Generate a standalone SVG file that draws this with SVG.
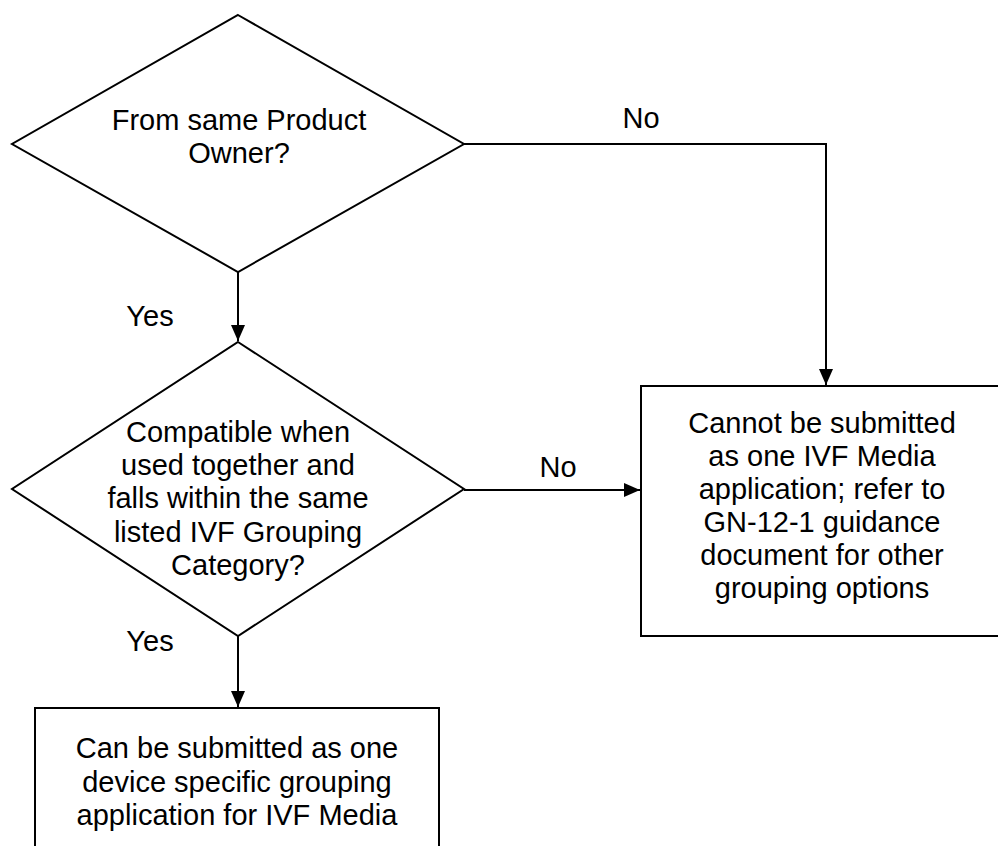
<svg xmlns="http://www.w3.org/2000/svg" width="998" height="846" viewBox="0 0 998 846">
<style>
.shape{fill:#fff;stroke:#000;stroke-width:2}
.conn{fill:none;stroke:#000;stroke-width:2}
text{font-family:"Liberation Sans",Arial,sans-serif;font-size:29px;fill:#000;text-anchor:middle}
</style>
<defs>
<marker id="arr" viewBox="0 0 16 14" refX="16" refY="7" markerWidth="16" markerHeight="14" markerUnits="userSpaceOnUse" orient="auto">
<path d="M0,0 L16,7 L0,14 Z" fill="#000"/>
</marker>
</defs>
<rect width="998" height="846" fill="#fff"/>
<g id="connectors">
<path class="conn" d="M238,272 L238,341" marker-end="url(#arr)"/>
<path class="conn" d="M464,144 L826,144 L826,385" marker-end="url(#arr)"/>
<path class="conn" d="M464,490 L640,490" marker-end="url(#arr)"/>
<path class="conn" d="M238,636 L238,707" marker-end="url(#arr)"/>
<text x="641" y="128">No</text>
<text x="150" y="326">Yes</text>
<text x="558" y="477">No</text>
<text x="150" y="651">Yes</text>
</g>
<g id="decision1">
<polygon class="shape" points="238,15 464,144 238,272 12,144"/>
<text x="239" y="130">From same Product</text>
<text x="239" y="163">Owner?</text>
</g>
<g id="decision2">
<polygon class="shape" points="238,342 464,489 238,636 12,489"/>
<text x="238" y="442">Compatible when</text>
<text x="238" y="475">used together and</text>
<text x="238" y="508">falls within the same</text>
<text x="238" y="542">listed IVF Grouping</text>
<text x="238" y="575">Category?</text>
</g>
<g id="cannot">
<rect class="shape" x="641" y="386" width="363" height="250"/>
<text x="822" y="433">Cannot be submitted</text>
<text x="822" y="466">as one IVF Media</text>
<text x="822" y="499">application; refer to</text>
<text x="822" y="532">GN-12-1 guidance</text>
<text x="822" y="565">document for other</text>
<text x="822" y="598">grouping options</text>
</g>
<g id="can">
<rect class="shape" x="35" y="708" width="404" height="160"/>
<text x="237" y="758">Can be submitted as one</text>
<text x="237" y="792">device specific grouping</text>
<text x="237" y="825">application for IVF Media</text>
</g>
</svg>
